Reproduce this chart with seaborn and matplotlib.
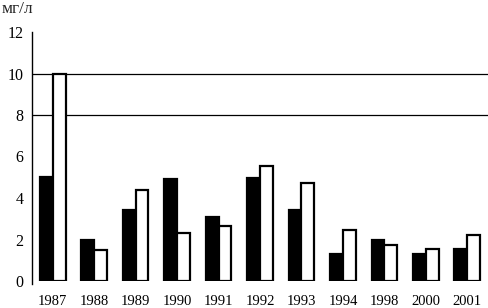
import numpy as np
import pandas as pd
import matplotlib
matplotlib.use("Agg")
import matplotlib.pyplot as plt
import seaborn as sns

years = ["1987", "1988", "1989", "1990", "1991", "1992", "1993", "1994", "1998", "2000", "2001"]
black_vals = [5.0, 2.0, 3.4, 4.9, 3.1, 4.95, 3.4, 1.3, 2.0, 1.3, 1.55]
white_vals = [10.0, 1.5, 4.4, 2.3, 2.65, 5.55, 4.7, 2.45, 1.75, 1.55, 2.2]
series = ["a", "b"]
ref_lines = [8, 10]

df = pd.DataFrame({
    "year": years * 2,
    "value": black_vals + white_vals,
    "series": [series[0]] * len(years) + [series[1]] * len(years),
})

sns.set_style("white")
plt.rcParams["font.family"] = ["Liberation Serif", "DejaVu Serif"]

fig = plt.figure(figsize=(4.88, 3.08), dpi=100)
ax = fig.add_axes([32 / 488, 1 - 281 / 308, 1 - 32 / 488, (281 - 32) / 308])

sns.barplot(data=df, x="year", y="value", hue="series", order=years,
            palette={"a": "black", "b": "white"}, width=0.62,
            edgecolor="black", linewidth=1.6, legend=False, ax=ax, zorder=2)

for v in ref_lines:
    ax.axhline(v, color="black", lw=0.9, zorder=0)

ax.set_ylim(0, 12)
ax.set_xlim(-0.5, len(years) - 0.5)
ax.set_yticks(range(0, 13, 2))
ax.set_xlabel("")
ax.set_ylabel("")

for side in ["top", "right", "bottom"]:
    ax.spines[side].set_visible(False)
ax.spines["left"].set_color("black")
ax.spines["left"].set_linewidth(1.0)
ax.spines["left"].set_bounds(-0.15, 12)

ax.tick_params(axis="y", length=0, pad=6, labelsize=11.5, colors="black")
ax.tick_params(axis="x", length=0, pad=10, labelsize=10.5, colors="black")
ax.set_xticks(np.arange(0.5, len(years) - 0.5), minor=True)
ax.tick_params(axis="x", which="minor", length=3, direction="out", width=0.8)

fig.text(0.003, 0.997, "мг/л", ha="left", va="top", fontsize=12.5)

fig.savefig("out.png", dpi=100)
